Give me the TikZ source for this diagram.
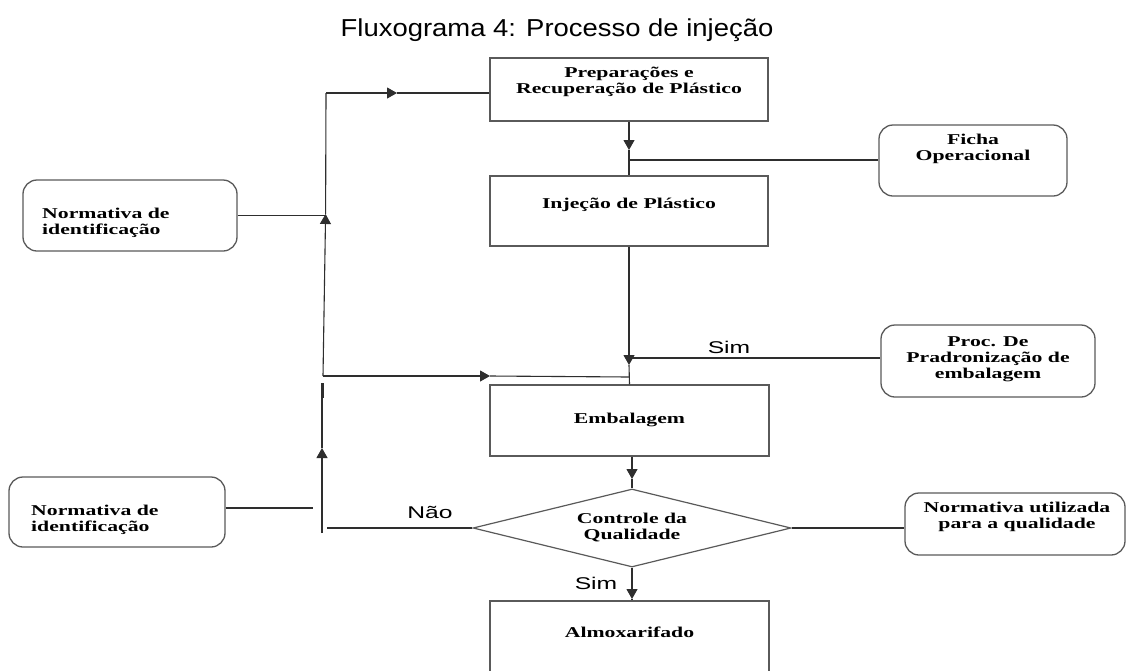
\documentclass[tikz,border=0pt]{standalone}
\usepackage{fontspec}
\usetikzlibrary{arrows.meta,shapes.geometric}
\newfontfamily\boxfont[FakeStretch=1.45]{Liberation Serif}
\newfontfamily\labelfont[FakeStretch=1.45]{Liberation Sans}
\newfontfamily\titlefont[FakeStretch=1.12]{Liberation Sans}
\definecolor{edge}{HTML}{5A5A5A}
\definecolor{wire}{HTML}{2E2E2E}
\begin{document}
\begin{tikzpicture}[x=1pt,y=-1pt,
  stepbox/.style={draw=edge,line width=1.3pt,rectangle,inner sep=0pt},
  notebox/.style={draw=edge,line width=1.3pt,rectangle,rounded corners=14pt,inner sep=0pt},
  decision/.style={draw=edge,line width=1.2pt,diamond,aspect=4.08,inner sep=0pt,
    font=\boxfont\bfseries\fontsize{15}{16}\selectfont,align=center},
  btext/.style={inner sep=0pt,font=\boxfont\bfseries\fontsize{15}{16}\selectfont},
  ltext/.style={inner sep=0pt,font=\labelfont\fontsize{17}{19}\selectfont},
  conn/.style={draw=wire,line width=1.1pt},
  tip/.style={conn,-{Triangle[length=10pt,width=11pt]}}]
\useasboundingbox (0,0) rectangle (1127,670);
\clip (0,0) rectangle (1127,670);
\fill[white] (0,0) rectangle (1127,670);

% heading
\node[inner sep=0pt,anchor=base,font=\titlefont\fontsize{24.5}{27}\selectfont]
  (title) at (557,36) {Fluxograma 4: Processo de injeção};

% main process boxes
\node[stepbox,minimum width=278pt,minimum height=63pt] (prep) at (629,89.5) {};
\node[btext,align=center] (prept) at (629,82) {Preparações e\\Recuperação de Plástico};
\node[stepbox,minimum width=278pt,minimum height=70pt] (inj) at (629,211) {};
\node[btext,anchor=base] (injt) at (629,208) {Injeção de Plástico};
\node[stepbox,minimum width=279pt,minimum height=71pt] (emb) at (629.5,420.5) {};
\node[btext,anchor=base] (embt) at (629.5,423) {Embalagem};
\node[decision,minimum width=318pt,minimum height=78pt] (dia) at (632,528) {Controle da\\Qualidade};
\node[stepbox,minimum width=279pt,minimum height=98pt] (alm) at (629.5,650) {};
\node[btext,anchor=base] (almt) at (629.5,637) {Almoxarifado};

% reference documents
\node[notebox,minimum width=214pt,minimum height=71pt] (norm1) at (130,215.5) {};
\node[btext,align=left,anchor=west] (norm1t) at (42,223) {Normativa de\\identificação};
\node[notebox,minimum width=216pt,minimum height=70pt] (norm2) at (117,512) {};
\node[btext,align=left,anchor=west] (norm2t) at (31,519.5) {Normativa de\\identificação};
\node[notebox,minimum width=188pt,minimum height=71pt] (ficha) at (973,160.5) {};
\node[btext,align=center] (fichat) at (973,149) {Ficha\\Operacional};
\node[notebox,minimum width=214pt,minimum height=72pt] (proc) at (988,361) {};
\node[btext,align=center] (proct) at (988,359) {Proc. De\\Pradronização de\\embalagem};
\node[notebox,minimum width=220pt,minimum height=62pt] (qual) at (1015,524) {};
\node[btext,align=center] (qualt) at (1017,517) {Normativa utilizada\\para a qualidade};

% main flow
\coordinate (a1) at (629,150);
\coordinate (j1) at (629,160);
\draw[tip] (prep.south) -- (a1);
\draw[conn] (a1) -- (inj.north);
\draw[conn] (j1) -- (j1 -| ficha.west);

\coordinate (a2) at (629,365);
\coordinate (j2) at (629,358);
\draw[tip] (inj.south) -- (a2);
\draw[conn] (a2) -- (emb.north);
\draw[conn] (j2) -- (j2 -| proc.west);
\node[ltext,anchor=base] (sim1) at (729,353) {Sim};

\coordinate (a3) at (632,479);
\draw[tip] (emb.south -| dia.north) -- (a3);
\draw[conn] (a3) -- (dia.north);

\coordinate (a4) at (632,599);
\draw[tip] (dia.south) -- (a4);
\draw[conn] (a4) -- (a4 |- alm.north);
\node[ltext,anchor=base] (sim2) at (596,589) {Sim};

\draw[conn] (dia.east) -- (dia.east -| qual.west);

% rework loop on the left
\coordinate (n0) at (327,528);
\draw[conn] (dia.west) -- (n0);
\node[ltext,anchor=base] (nao) at (430,518) {Não};

\coordinate (l1) at (322,533);
\coordinate (l2) at (322,448);
\coordinate (l3) at (322,383);
\coordinate (l4) at (323,398);
\coordinate (u0) at (323,376);
\coordinate (u1) at (325.6,214);
\coordinate (u2) at (326,93);
\coordinate (u3) at (397,93);
\coordinate (h1) at (490,376);
\coordinate (h2) at (629,377);
\draw[tip] (l1) -- (l2);
\draw[conn] (l2) -- (l3);
\draw[draw=wire,line width=2.6pt] (l3 -| l4) -- (l4);
\draw[tip] (u0) -- (u1);
\draw[conn] (u1) -- (u2);
\draw[tip] (u2) -- (u3);
\draw[conn] (u3) -- (u3 -| prep.west);
\draw[tip] (u0) -- (h1);
\draw[conn] (h1) -- (h2);

\coordinate (n1) at (326,215.5);
\draw[conn] (norm1.east) -- (n1);
\coordinate (n2) at (313,508);
\draw[conn] (norm2.east |- n2) -- (n2);
\end{tikzpicture}
\end{document}
